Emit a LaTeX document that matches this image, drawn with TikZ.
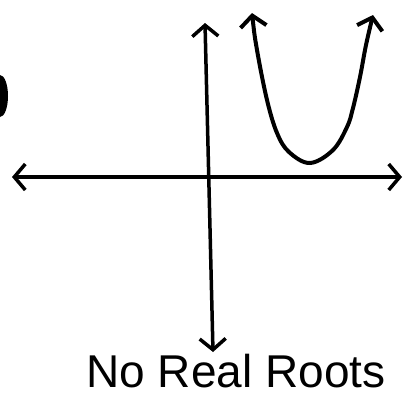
\documentclass[tikz,border=0pt]{standalone}
\usepackage{fontspec}
\setmainfont{Liberation Sans}
\usetikzlibrary{arrows.meta}

\begin{document}
\begin{tikzpicture}[
    x=1pt, y=-1pt,
    axis/.style={line width=3.5pt, line cap=round, {Straight Barb[length=11pt, width=26pt]}-{Straight Barb[length=11pt, width=26pt]}},
    curve/.style={line width=4pt, line cap=round, {Straight Barb[length=11pt, width=26pt]}-{Straight Barb[length=11pt, width=26pt]}},
    caption/.style={font=\fontsize{46}{46}\selectfont, inner sep=0pt}
]
    \useasboundingbox (0,0) rectangle (409,397);

    % Axes
    \coordinate (xl) at (12,177);
    \coordinate (xr) at (402,177);
    \coordinate (yt) at (205,23);
    \coordinate (yb) at (213,352);
    \draw[axis] (xl) -- (xr);
    \draw[axis] (yt) -- (yb);

    % Parabola above the x-axis
    \coordinate (pl) at (252,13);
    \coordinate (pm) at (310,163);
    \coordinate (pr) at (373,15);
    \draw[curve] plot[smooth, tension=0.6] coordinates {(pl) (257,50) (267,100) (277,133) (289,152) (pm) (333,150) (347,127) (353,108) (360,77) (366,45) (pr)};

    % Blob at the left edge
    \fill (0,75) arc[start angle=-90, end angle=90, x radius=8, y radius=21] -- cycle;

    % Caption
    \node[caption] (cap) at (236,371) {No Real Roots};
\end{tikzpicture}
\end{document}
